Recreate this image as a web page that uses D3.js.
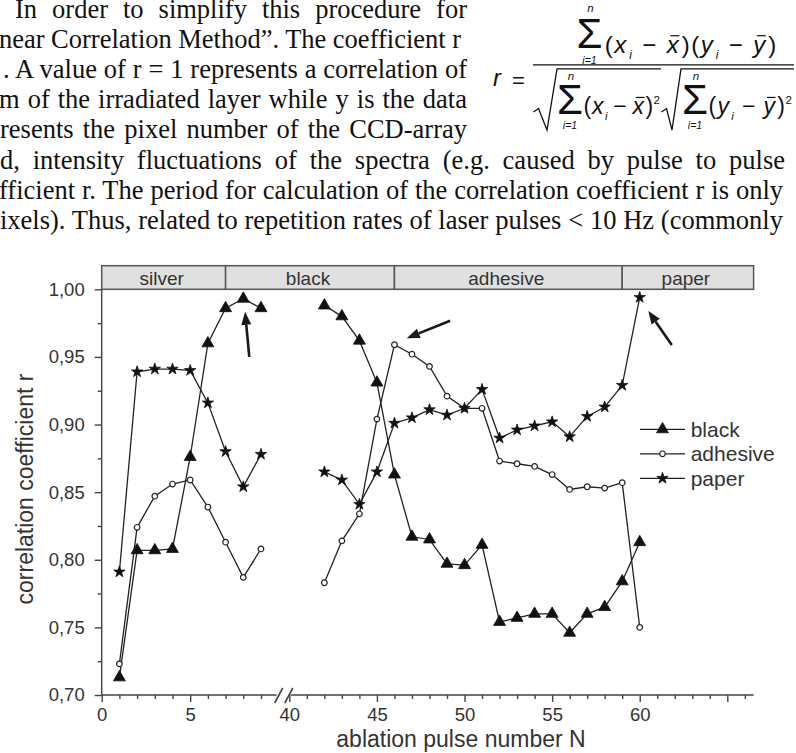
<!DOCTYPE html>
<html>
<head>
<meta charset="utf-8">
<script src="https://cdn.jsdelivr.net/npm/d3@7"></script>
<style>
  body { margin: 0; background: #fff; }
  svg { display: block; }
</style>
</head>
<body>
<svg id="fig" width="796" height="753"></svg>
<script>
// values
const pulsesLeft = [1, 2, 3, 4, 5, 6, 7, 8, 9];
const pulsesRight = [42, 43, 44, 45, 46, 47, 48, 49, 50, 51, 52, 53, 54, 55, 56, 57, 58, 59, 60];

const blackLeft = [0.713, 0.807, 0.807, 0.808, 0.876, 0.960, 0.986, 0.993, 0.986];
const blackRight = [0.988, 0.980, 0.962, 0.931, 0.863, 0.817, 0.815, 0.797, 0.796, 0.811,
                    0.754, 0.757, 0.760, 0.760, 0.746, 0.760, 0.765, 0.784, 0.813];
const adhesiveLeft = [0.723, 0.824, 0.847, 0.856, 0.859, 0.839, 0.813, 0.787, 0.808];
const adhesiveRight = [0.783, 0.814, 0.834, 0.904, 0.959, 0.952, 0.943, 0.921, 0.912, 0.912,
                       0.873, 0.871, 0.869, 0.863, 0.852, 0.854, 0.853, 0.857, 0.750];
const paperLeft = [0.791, 0.939, 0.941, 0.941, 0.940, 0.916, 0.880, 0.854, 0.878];
const paperRight = [0.865, 0.859, 0.841, 0.865, 0.901, 0.905, 0.911, 0.907, 0.912, 0.926,
                    0.890, 0.896, 0.899, 0.902, 0.891, 0.906, 0.913, 0.929, 0.994];

const layers = ['silver', 'black', 'adhesive', 'paper'];
const layerBounds = [0, 7, 46, 59, 66.5];

const yTicks = [0.70, 0.75, 0.80, 0.85, 0.90, 0.95, 1.00];
const xMajor = [0, 5, 40, 45, 50, 55, 60, 65];
const xLabels = [0, 5, 40, 45, 50, 55, 60];
const breakAt = [10, 40];

// arrows in data units: [from, to]
const arrows = [
  [[8.34, 0.950], [8.10, 0.9834]],
  [[49.18, 0.9768], [46.70, 0.9638]],
  [[61.83, 0.9588], [60.49, 0.984]]
];

const bodyLines = [
  "In order to simplify this procedure for",
  "near Correlation Method\u201D. The coefficient r",
  ". A value of r = 1 represents a correlation of",
  "m of the irradiated layer while y is the data",
  "resents the pixel number of the CCD-array",
  "d, intensity fluctuations of the spectra (e.g. caused by pulse to pulse",
  "fficient r. The period for calculation of the correlation coefficient r is only",
  "ixels). Thus, related to repetition rates of laser pulses < 10 Hz (commonly"
];

const fig = d3.select('#fig');
const sans = 'Liberation Sans, Arial, Helvetica, sans-serif';
const serif = 'Liberation Serif, Times New Roman, serif';

// ---- running text above the chart (justified lines) ----
const lineStart = [15, -1, 3, -1, 0, 0, -1, 0];
const lineEnd = [467, 461, 467, 467, 467, 785, 783, 783];
bodyLines.forEach((s, i) => {
  const t = fig.append('text')
    .attr('x', lineStart[i])
    .attr('y', 17.5 + i * 30.2)
    .attr('font-family', serif)
    .attr('font-size', 26.5)
    .attr('fill', '#111')
    .text(s);
  const natural = t.node().getComputedTextLength();
  const spaces = (s.match(/ /g) || []).length;
  t.style('word-spacing', ((lineEnd[i] - lineStart[i] - natural) / spaces) + 'px');
});

// ---- formula ----
const math = fig.append('g').attr('font-family', sans).attr('fill', '#111');

// lays tokens out left to right, spreading the spare width by each token's pad weight
function mathRow(x0, base, tokens, size, width) {
  const g = math.append('g').attr('transform', `translate(${x0},${base})`);
  const items = tokens.map(tk => {
    const small = tk.sub || tk.sup;
    const t = g.append('text')
      .attr('y', tk.sub ? size * 0.24 : tk.sup ? -size * 0.45 : 0)
      .attr('font-size', small ? size * 0.5 : size)
      .attr('font-style', tk.it ? 'italic' : 'normal')
      .text(tk.s);
    return { tk, t, w: t.node().getComputedTextLength() };
  });
  const natural = d3.sum(items, d => d.w);
  const units = d3.sum(tokens, tk => tk.pad || 0);
  const extra = (width - natural) / units;
  let cx = 0;
  items.forEach(({ tk, t, w }) => {
    const p = (tk.pad || 0) * extra;
    cx += p / 2;
    t.attr('x', cx);
    if (tk.bar) {
      g.append('line')
        .attr('x1', cx + w * 0.3).attr('x2', cx + w * 1.05)
        .attr('y1', -size * 0.72).attr('y2', -size * 0.72)
        .attr('stroke', '#111').attr('stroke-width', 1.2);
    }
    cx += w + p / 2;
  });
}

function sigma(cx, base, nBase, iBase) {
  math.append('text').attr('x', cx).attr('y', base).attr('text-anchor', 'middle')
    .attr('font-size', 42).text('\u03A3');
  math.append('text').attr('x', cx + 1).attr('y', nBase).attr('text-anchor', 'middle')
    .attr('font-size', 11.5).attr('font-style', 'italic').text('n');
  math.append('text').attr('x', cx).attr('y', iBase).attr('text-anchor', 'middle')
    .attr('font-size', 10.5).attr('font-style', 'italic').text('i=1');
}

const half = v => [
  { s: '(', pad: 0.2 }, { s: v, it: 1, pad: 0.2 }, { s: 'i', it: 1, sub: 1, pad: 0.6 },
  { s: '\u2212', pad: 2.2 }, { s: v, it: 1, bar: 1, pad: 0.6 }, { s: ')', pad: 0.2 }
];
const xy = half('x').concat(half('y'));
const xx = half('x').concat([{ s: '2', sup: 1 }]);
const yy = half('y').concat([{ s: '2', sup: 1 }]);

math.append('text').attr('x', 493).attr('y', 86).attr('font-size', 24).attr('font-style', 'italic').text('r');
math.append('text').attr('x', 518.5).attr('y', 87.5).attr('text-anchor', 'middle').attr('font-size', 22).text('=');

sigma(589.5, 48, 12, 64);
mathRow(604, 53, xy, 24, 173);
math.append('line').attr('x1', 533).attr('x2', 794).attr('y1', 64.8).attr('y2', 64.8)
  .attr('stroke', '#111').attr('stroke-width', 1.3);

math.append('path').attr('d', 'M533.5,112 L538.5,108.5 L547,130 L557,68.8 L661,68.8')
  .attr('fill', 'none').attr('stroke', '#111').attr('stroke-width', 1.3);
math.append('path').attr('d', 'M661.5,112 L666.5,108.5 L672,130 L681,68.8 L794,68.8')
  .attr('fill', 'none').attr('stroke', '#111').attr('stroke-width', 1.3);
sigma(570, 114, 80, 129);
mathRow(583, 114, xx, 23, 77);
sigma(695, 114, 80, 129);
mathRow(708, 114, yy, 23, 84);

// ---- chart ----
const x = d3.scaleLinear()
  .domain([0, 10.25, 39.65, 66.5])
  .range([101.7, 283.1, 283.2, 753.6]);
const y = d3.scaleLinear().domain([0.70, 1.00]).range([695, 289.3]);

const chart = fig.append('g').attr('font-family', sans);
const axisColor = '#444';

// layer bands on top
const bandTop = 265.7;
layers.forEach((name, i) => {
  const x0 = x(layerBounds[i]), x1 = x(layerBounds[i + 1]);
  chart.append('rect')
    .attr('x', x0).attr('y', bandTop)
    .attr('width', x1 - x0).attr('height', y(1.0) - bandTop)
    .attr('fill', '#e0e0e0').attr('stroke', '#555').attr('stroke-width', 1.5);
  chart.append('text')
    .attr('x', (x0 + x1) / 2 - 2).attr('y', 284.5)
    .attr('text-anchor', 'middle').attr('font-size', 19).attr('fill', '#333')
    .text(name);
});

// y axis
const fmt = d => d3.format('.2f')(d).replace('.', ',');
const yMinor = d3.range(0.725, 1.0, 0.05);
chart.append('g').attr('transform', `translate(${x(0)},0)`)
  .call(d3.axisLeft(y).tickValues(yMinor).tickSize(4).tickFormat(''))
  .call(g => g.select('.domain').remove());
const yAxis = chart.append('g').attr('transform', `translate(${x(0)},0)`)
  .call(d3.axisLeft(y).tickValues(yTicks).tickSize(7).tickPadding(10).tickFormat(fmt));
yAxis.select('.domain').attr('d', `M0,${y(1.0)}V${y(0.70)}`);

// x axis (broken)
const xMinor = d3.range(1, 10).concat(d3.range(41, 67)).filter(v => !xMajor.includes(v));
chart.append('g').attr('transform', `translate(0,${y(0.70)})`)
  .call(d3.axisBottom(x).tickValues(xMinor).tickSize(4).tickFormat(''))
  .call(g => g.select('.domain').remove());
const xAxis = chart.append('g').attr('transform', `translate(0,${y(0.70)})`)
  .call(d3.axisBottom(x).tickValues(xMajor).tickSize(7).tickPadding(6)
    .tickFormat(d => xLabels.includes(d) ? d : ''));
xAxis.select('.domain').remove();
const xb0 = x(breakAt[0]), xb1 = x(breakAt[1]) - 0.5;
xAxis.append('path')
  .attr('d', `M${x(0)},0H${xb0 - 2}M${xb1 + 2},0H${x(66.5)}`)
  .attr('stroke', axisColor).attr('stroke-width', 1.4).attr('fill', 'none');
[xb0, xb1].forEach(cx => {
  xAxis.append('line')
    .attr('x1', cx - 4).attr('y1', 8).attr('x2', cx + 4).attr('y2', -7)
    .attr('stroke', axisColor).attr('stroke-width', 1.6);
});

chart.selectAll('.tick line').attr('stroke', axisColor).attr('stroke-width', 1.4);
yAxis.select('.domain').attr('stroke', axisColor).attr('stroke-width', 1.4);
chart.selectAll('.tick text').attr('font-size', 18.5).attr('fill', '#333').attr('font-family', sans);

// axis titles
chart.append('text')
  .attr('x', 461).attr('y', 747)
  .attr('text-anchor', 'middle').attr('font-size', 23).attr('fill', '#333')
  .text('ablation pulse number N');
chart.append('text')
  .attr('transform', 'translate(32.5,489) rotate(-90)')
  .attr('text-anchor', 'middle').attr('font-size', 23).attr('fill', '#333')
  .text('correlation coefficient r');

// series
const series = [
  { name: 'black', left: blackLeft, right: blackRight, kind: 'triangle' },
  { name: 'adhesive', left: adhesiveLeft, right: adhesiveRight, kind: 'circle' },
  { name: 'paper', left: paperLeft, right: paperRight, kind: 'star' }
];

const line = d3.line().x(d => x(d[0])).y(d => y(d[1]));

function marker(g, kind) {
  if (kind === 'circle') {
    g.append('circle').attr('r', 2.8).attr('fill', '#fff').attr('stroke', '#222').attr('stroke-width', 1.2);
  } else {
    const sym = kind === 'triangle' ? d3.symbol(d3.symbolTriangle, 62) : d3.symbol(d3.symbolStar, 40);
    g.append('path').attr('d', sym).attr('fill', '#111').attr('stroke', '#111').attr('stroke-width', 0.8);
  }
}

series.forEach(s => {
  const segs = [d3.zip(pulsesLeft, s.left), d3.zip(pulsesRight, s.right)];
  segs.forEach(pts => {
    chart.append('path').datum(pts)
      .attr('d', line).attr('fill', 'none')
      .attr('stroke', '#222').attr('stroke-width', 1.3);
  });
  segs.forEach(pts => {
    chart.selectAll(null).data(pts).enter().append('g')
      .attr('transform', d => `translate(${x(d[0])},${y(d[1])})`)
      .each(function () { marker(d3.select(this), s.kind); });
  });
});

// arrows
arrows.forEach(([from, to]) => {
  const x1 = x(from[0]), y1 = y(from[1]), x2 = x(to[0]), y2 = y(to[1]);
  const a = Math.atan2(y2 - y1, x2 - x1);
  const hl = 13, hw = 5;
  const bx = x2 - hl * Math.cos(a), by = y2 - hl * Math.sin(a);
  chart.append('line')
    .attr('x1', x1).attr('y1', y1).attr('x2', bx).attr('y2', by)
    .attr('stroke', '#1a1a1a').attr('stroke-width', 2.6);
  chart.append('path')
    .attr('d', `M${x2},${y2}L${bx + hw * Math.sin(a)},${by - hw * Math.cos(a)}` +
      `L${bx - hw * Math.sin(a)},${by + hw * Math.cos(a)}Z`)
    .attr('fill', '#1a1a1a');
});

// legend
const legend = chart.append('g').attr('transform', 'translate(640,429.3)');
series.forEach((s, i) => {
  const g = legend.append('g').attr('transform', `translate(0,${i * 24.5})`);
  g.append('line').attr('x1', 0).attr('x2', 45).attr('stroke', '#222').attr('stroke-width', 1.3);
  marker(g.append('g').attr('transform', 'translate(22.5,0)'), s.kind);
  g.append('text').attr('x', 50.7).attr('y', 0).attr('dy', '0.35em')
    .attr('font-size', 21).attr('fill', '#333').text(s.name);
});
</script>
</body>
</html>
